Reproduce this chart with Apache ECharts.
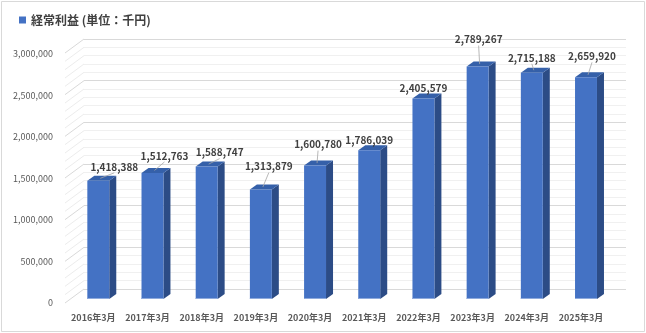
<!DOCTYPE html>
<html><head><meta charset="utf-8">
<script src="https://cdn.jsdelivr.net/npm/echarts@6/dist/echarts.min.js"></script>
<style>html,body{margin:0;padding:0;background:#fff}#c{width:646px;height:333px}</style>
</head><body><div id="c"></div>
<script>
// ---- data ----
const categories = ['2016年3月','2017年3月','2018年3月','2019年3月','2020年3月','2021年3月','2022年3月','2023年3月','2024年3月','2025年3月'];
const profit = [1418388, 1512763, 1588747, 1313879, 1600780, 1786039, 2405579, 2789267, 2715188, 2659920];
const seriesName = '経常利益 (単位：千円)';
const yTicks = [0, 500000, 1000000, 1500000, 2000000, 2500000, 3000000];

// ---- layout / style (not data) ----
const FONT = '"Noto Sans CJK JP", "Liberation Sans", sans-serif';
const yMax = yTicks[yTicks.length - 1];
const yStep = yTicks[1] - yTicks[0];
const minorPerMajor = 5;
const labelNudge = [[16,-14],[12,-17],[13,-14],[8,-23],[3,-21],[0,-10],[0,-10],[1,-27],[0,-15],[6,-21]];
const DEPTH = [7, -5];
const WALL = [-19, 14];

function fmt(v){ return String(v).replace(/\B(?=(\d{3})+(?!\d))/g, ','); }

const chart = echarts.init(document.getElementById('c'), null, {renderer:'canvas'});

const option = {
  animation: false,
  backgroundColor: '#ffffff',
  textStyle: {fontFamily: FONT},
  graphic: [{
    type: 'rect', silent: true, z: -10,
    shape: {x: 1.5, y: 1.5, width: 643, height: 330},
    style: {fill: 'none', stroke: '#d9d9d9', lineWidth: 1}
  }],
  legend: {
    data: [seriesName], left: 14, top: 9, icon: 'rect', itemWidth: 7, itemHeight: 7,
    textStyle: {fontSize: 12, fontWeight: 'bold', color: '#404040', fontFamily: FONT}
  },
  grid: [
    {left: 65, right: 20, top: 54, bottom: 30, outerBoundsMode: 'none'},
    {left: 84, right: 20, top: 39, bottom: 44, outerBoundsMode: 'none'},
    {left: 71.2, right: 32.9, top: 49, bottom: 34, outerBoundsMode: 'none'}
  ],
  xAxis: [
    {gridIndex: 0, type: 'value', min: 0, max: 1, show: false},
    {gridIndex: 1, type: 'value', min: 0, max: 1, show: false},
    {gridIndex: 2, type: 'category', data: categories,
     axisLine: {show: false}, axisTick: {show: false}, splitLine: {show: false},
     axisLabel: {margin: 14, fontSize: 9, fontWeight: 'bold', color: '#595959', fontFamily: FONT,
                 padding: [0, 10, 0, 0], interval: 0}}
  ],
  yAxis: [
    {gridIndex: 0, type: 'value', min: 0, max: yMax, interval: yStep,
     axisLine: {show: false}, axisTick: {show: false}, splitLine: {show: false},
     axisLabel: {margin: 12, fontSize: 9, color: '#595959', fontFamily: FONT, formatter: fmt}},
    {gridIndex: 1, type: 'value', min: 0, max: yMax, interval: yStep,
     axisLine: {show: false}, axisTick: {show: false}, axisLabel: {show: false},
     splitLine: {show: true, lineStyle: {color: '#d9d9d9', width: 1}},
     minorTick: {show: false, splitNumber: minorPerMajor},
     minorSplitLine: {show: true, lineStyle: {color: '#f0f0f0', width: 1}}},
    {gridIndex: 2, type: 'value', min: 0, max: yMax, interval: yStep, show: false}
  ],
  series: [
    {
      type: 'custom', name: 'wall', silent: true, xAxisIndex: 1, yAxisIndex: 1, z: 1,
      data: [[0, 0]],
      renderItem: function(params, api){
        const children = [];
        const minor = yStep / minorPerMajor;
        for (let k = 0; k * minor <= yMax + 1; k++) {
          const v = k * minor;
          const p = api.coord([0, v]);
          const major = (k % minorPerMajor) === 0;
          children.push({
            type: 'line',
            shape: {x1: p[0] + WALL[0], y1: p[1] + WALL[1], x2: p[0], y2: p[1]},
            style: {stroke: major ? '#d9d9d9' : '#ececec', lineWidth: 1}
          });
        }
        return {type: 'group', children: children};
      }
    },
    {
      type: 'custom', name: seriesName, xAxisIndex: 2, yAxisIndex: 2, z: 5,
      itemStyle: {color: '#4472C4'},
      data: profit.map(function(v, i){ return [i, v]; }),
      renderItem: function(params, api){
        const i = api.value(0), v = api.value(1);
        const top = api.coord([i, v]);
        const base = api.coord([i, 0]);
        const w = api.size([1, 0])[0] * 0.405;
        const x0 = top[0] - w / 2, x1 = top[0] + w / 2;
        const dx = DEPTH[0], dy = DEPTH[1];
        const ty = top[1], by = base[1];
        const n = labelNudge[i] || [0, -12];
        const lx = top[0] + n[0], ly = ty + n[1];
        const children = [
          {type: 'polygon', shape: {points: [[x1, ty], [x1 + dx, ty + dy], [x1 + dx, by + dy], [x1, by]]},
           style: {fill: '#2C4C86'}},
          {type: 'polygon', shape: {points: [[x0, ty], [x0 + dx, ty + dy], [x1 + dx, ty + dy], [x1, ty]]},
           style: {fill: '#3560A9'}},
          {type: 'rect', shape: {x: x0, y: ty, width: w, height: by - ty},
           style: {fill: '#4472C4'}},
          {type: 'line', shape: {x1: x0, y1: by - 0.5, x2: x1, y2: by - 0.5},
           style: {stroke: '#8FAADC', lineWidth: 1}}
        ];
        if (n[1] < -12) {
          children.push({type: 'line', shape: {x1: top[0] + 2, y1: ty - 2.5, x2: lx, y2: ly + 6},
            style: {stroke: '#a6a6a6', lineWidth: 0.8}});
        }
        children.push({type: 'text', style: {
          text: fmt(profit[i]), x: lx, y: ly, align: 'center', verticalAlign: 'middle',
          fontSize: 10, fontWeight: 'bold', fontFamily: FONT, fill: '#404040'}});
        return {type: 'group', children: children};
      }
    }
  ]
};
chart.setOption(option);
</script></body></html>
